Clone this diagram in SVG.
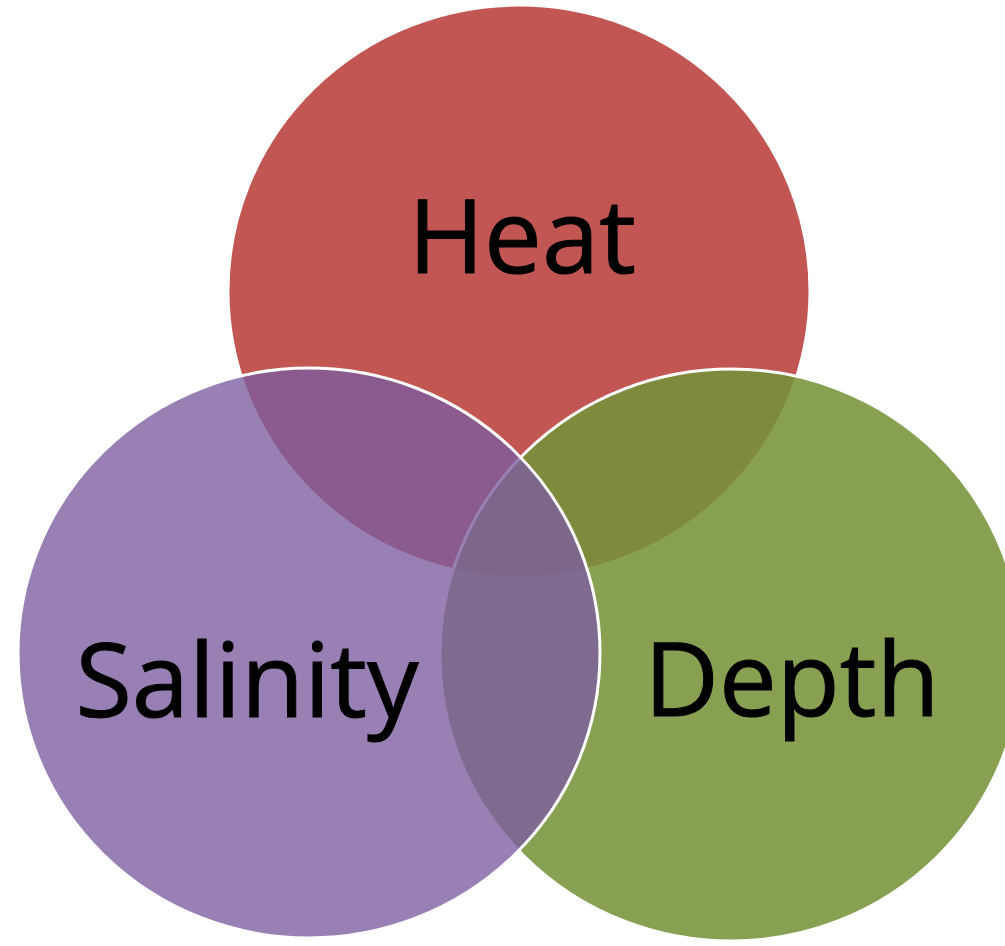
<svg xmlns="http://www.w3.org/2000/svg" width="1005" height="946" viewBox="0 0 1005 946">
  <style>
    .circle { stroke: #ffffff; stroke-width: 3; }
    .label { font-family: "Open Sans", "Liberation Sans", sans-serif; font-size: 103px; fill: #000000; text-anchor: middle; stroke: #000000; stroke-width: 1; }
  </style>
  <rect width="1005" height="946" fill="#ffffff"/>
  <g id="heat">
    <ellipse class="circle" cx="519" cy="291" rx="291" ry="286" fill="#C25653"/>
  </g>
  <g id="depth">
    <ellipse class="circle" cx="731" cy="655" rx="291" ry="286" fill="#759238" fill-opacity="0.87"/>
  </g>
  <g id="salinity">
    <ellipse class="circle" cx="309" cy="653" rx="291" ry="285" fill="#7B5CA0" fill-opacity="0.78"/>
  </g>
  <g id="connectors"></g>
  <g id="labels">
    <text class="label" x="522" y="273">Heat</text>
    <text class="label" x="247" y="717">Salinity</text>
    <text class="label" x="792" y="716">Depth</text>
  </g>
</svg>
